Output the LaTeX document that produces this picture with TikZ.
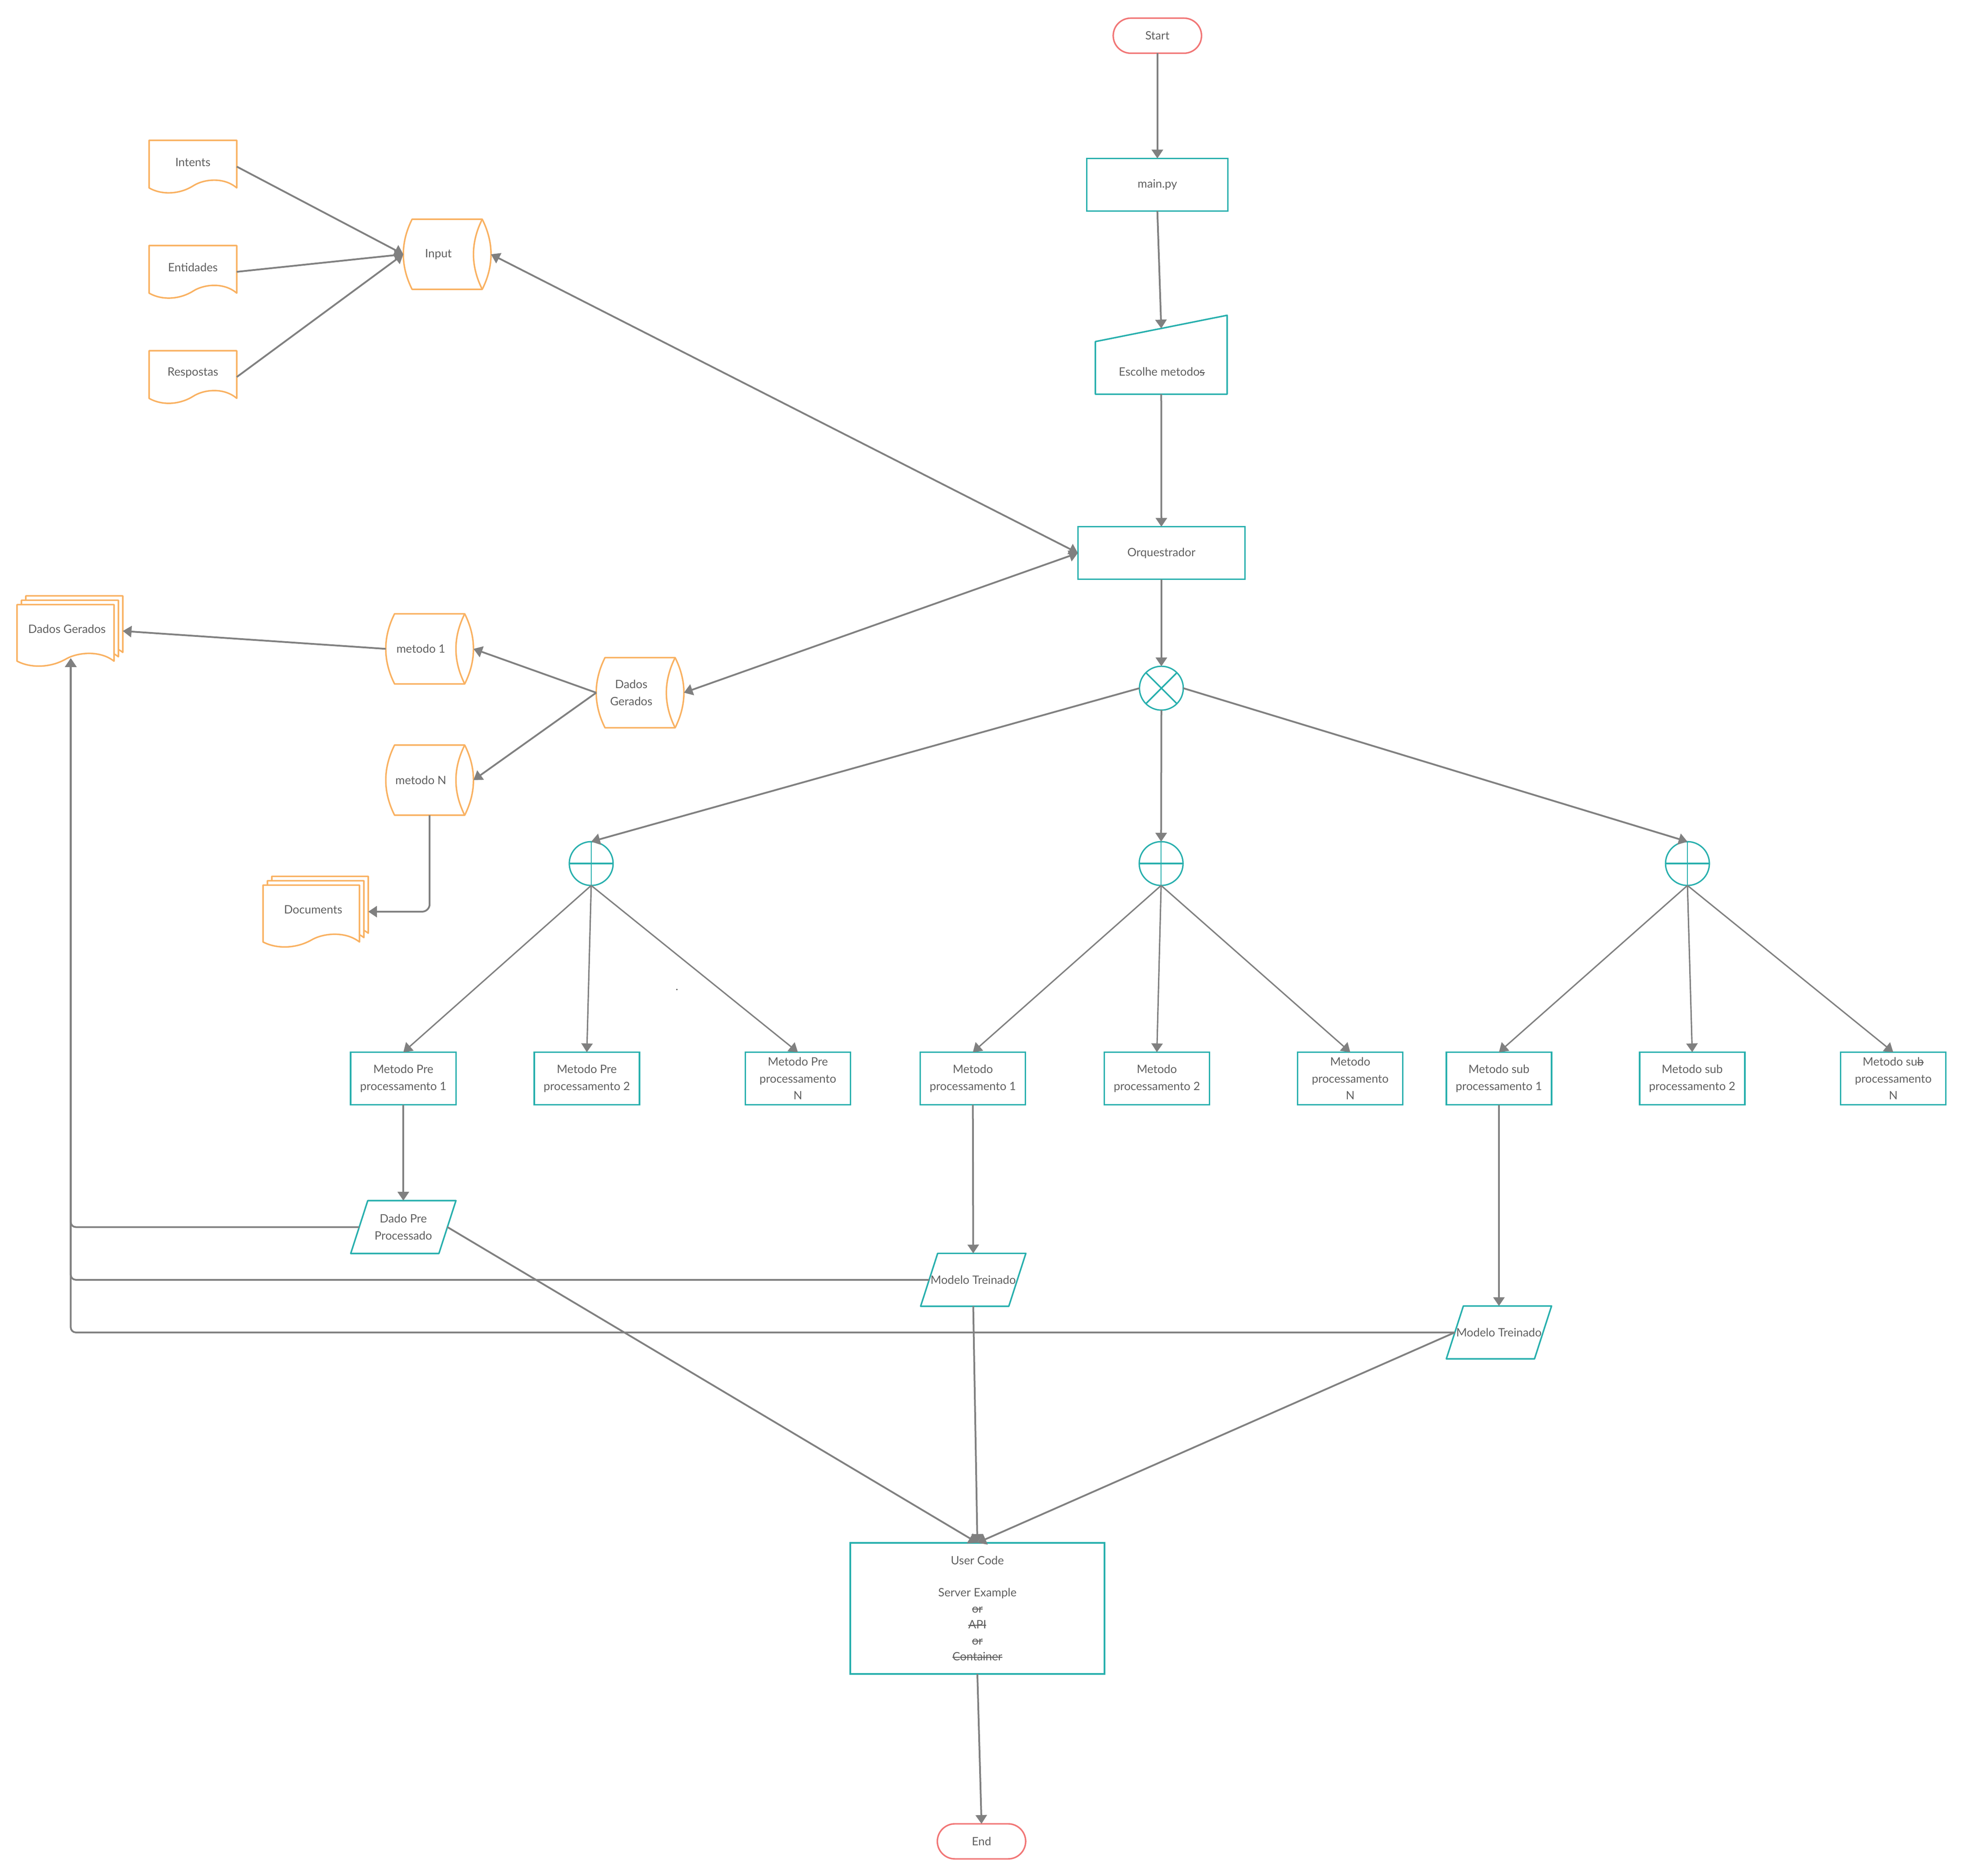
\documentclass[tikz,border=0pt]{standalone}
\usepackage{fontspec}
\setmainfont{Lato}
\usetikzlibrary{arrows.meta,calc}
\definecolor{teal2}{HTML}{27AFAD}
\definecolor{orng}{HTML}{F9B161}
\definecolor{redt}{HTML}{F17676}
\definecolor{lgray}{HTML}{808080}
\definecolor{txtc}{HTML}{5F5F5F}
\newcommand\strk[1]{\setbox0\hbox{#1}\rlap{\raisebox{0.26em}{\rule{\wd0}{0.07em}}}\box0}
% document shape: name, cx, cy, w, h, style
\newcommand\docshape[6]{%
  \node[anch, minimum width=#4pt, minimum height=#5pt] (#1) at (#2,#3) {};
  \path[#6] (#1.north west) -- (#1.north east) -- ($(#1.south east)+(0,-4)$)
    .. controls ($(#1.south west)+(0.85*#4,-13)$) and ($(#1.south west)+(0.62*#4,-11)$) .. ($(#1.south west)+(0.5*#4,-5.5)$)
    .. controls ($(#1.south west)+(0.35*#4,1)$) and ($(#1.south west)+(0.15*#4,2)$) .. ($(#1.south west)+(0,-4)$) -- cycle;
}
% sideways cylinder: name, cx, cy, text
\newcommand\cylshape[4]{%
  \node[anch, minimum width=70pt, minimum height=56pt] (#1) at (#2,#3) {};
  \path[oshape] ({#2-28},{#3-28}) -- ({#2+28},{#3-28})
    .. controls ({#2+37.33},{#3-9.33}) and ({#2+37.33},{#3+9.33}) .. ({#2+28},{#3+28})
    -- ({#2-28},{#3+28})
    .. controls ({#2-37.33},{#3+9.33}) and ({#2-37.33},{#3-9.33}) .. ({#2-28},{#3-28}) -- cycle;
  \path[oshape] ({#2+28},{#3-28}) .. controls ({#2+18.67},{#3-9.33}) and ({#2+18.67},{#3+9.33}) .. ({#2+28},{#3+28});
  \node[txt] (#1-t) at ({#2-7},#3) {#4};
}
% parallelogram: name, cx, cy, text
\newcommand\paral[4]{%
  \node[anch, minimum width=70.4pt, minimum height=42.2pt, align=center] (#1) at (#2,#3) {#4};
  \draw[tshape] ($(#1.north west)+(6.8,0)$) -- ($(#1.north east)+(6.8,0)$) -- ($(#1.south east)+(-6.8,0)$) -- ($(#1.south west)+(-6.8,0)$) -- cycle;
}
\begin{document}
\begin{tikzpicture}[x=1pt,y=-1pt,
  font=\fontsize{9.2}{13.5}\selectfont,
  every node/.style={text=txtc},
  >={Triangle[width=9pt,length=7pt]},
  anch/.style={draw=none, rectangle, inner sep=0pt, outer sep=0pt},
  txt/.style={inner sep=0pt, align=center},
  tbox/.style={draw=teal2, line width=1.2pt, rectangle, inner sep=0pt, outer sep=0pt, align=center},
  term/.style={draw=redt, line width=1.2pt, rectangle, rounded corners=14pt, minimum width=70.5pt, minimum height=28pt, inner sep=0pt, outer sep=0pt},
  oshape/.style={draw=orng, line width=1.2pt, fill=white, line join=round},
  tshape/.style={draw=teal2, line width=1.2pt, line join=round},
  ring/.style={circle, draw=teal2, line width=1.1pt, minimum size=35pt, inner sep=0pt, outer sep=0pt},
  conn/.style={draw=lgray, line width=1.4pt, ->},
  fan/.style={draw=lgray, line width=1.1pt, ->}
]
\useasboundingbox (0,0) rectangle (1568,1497.6);

% ---------- terminals ----------
\node[term] (start) at (924,28.5) {Start};
\node[term] (endn) at (783.6,1470) {End};

% ---------- teal process boxes ----------
\node[tbox, minimum width=112.6pt, minimum height=42pt] (mainpy) at (924,147.5) {main.py};
\node[anch, minimum width=105.2pt, minimum height=63pt] (escolhe) at (927.1,283.2) {};
\draw[tshape] (escolhe.south west) -- ($(escolhe.north west)+(0,21)$) -- (escolhe.north east) -- (escolhe.south east) -- cycle;
\coordinate (escolhe-top) at ($(escolhe.north)+(0,10.5)$);
\node[txt] (escolhe-t) at (927.5,296.8) {Escolhe metodo\strk{s}};
\node[tbox, minimum width=133.3pt, minimum height=42pt] (orq) at (927.2,441.5) {Orquestrador};

\node[ring] (xor) at (927.2,549.4) {};
\draw[tshape] (xor.north west) -- (xor.south east) (xor.north east) -- (xor.south west);

\foreach \n/\x in {p1/472, p2/927, p3/1347.2}{
  \node[ring] (\n) at (\x,689.4) {};
  \draw[draw=teal2, line width=0.9pt] (\n.north) -- (\n.south);
  \draw[draw=teal2, line width=1.5pt] (\n.west) -- (\n.east);
}

\node[tbox, minimum width=84pt, minimum height=42pt] (b1) at (322,861) {Metodo Pre\\processamento 1};
\node[tbox, minimum width=84pt, minimum height=42pt] (b2) at (468.5,861) {Metodo Pre\\processamento 2};
\node[tbox, minimum width=84pt, minimum height=42pt] (b3) at (637,861) {Metodo Pre\\processamento\\N};
\node[tbox, minimum width=84pt, minimum height=42pt] (b4) at (776.7,861) {Metodo\\processamento 1};
\node[tbox, minimum width=84pt, minimum height=42pt] (b5) at (923.6,861) {Metodo\\processamento 2};
\node[tbox, minimum width=84pt, minimum height=42pt] (b6) at (1078,861) {Metodo\\processamento\\N};
\node[tbox, minimum width=84pt, minimum height=42pt] (b7) at (1196.7,861) {Metodo sub\\processamento 1};
\node[tbox, minimum width=84pt, minimum height=42pt] (b8) at (1351,861) {Metodo sub\\processamento 2};
\node[tbox, minimum width=84pt, minimum height=42pt] (b9) at (1511.5,861) {Metodo su\strk{b}\\processamento\\N};

\paral{dadopre}{322}{979.6}{Dado Pre\\Processado}
\paral{modelo1}{777}{1021.7}{Modelo Treinado}
\paral{modelo2}{1196.7}{1063.7}{Modelo Treinado}

\node[tbox, minimum width=203pt, minimum height=104.7pt, font=\fontsize{9.2}{12.8}\selectfont] (usercode) at (780.3,1284)
  {User Code\\[12.8pt]Server Example\\\strk{or}\\\strk{API}\\\strk{or}\\\strk{Container}};

\node[txt] (dot) at (540.4,790) {.};

% ---------- orange data shapes ----------
\docshape{intents}{154}{133}{70}{42}{oshape}
\node[txt] (intents-t) at (154,129.5) {Intents};
\docshape{entidades}{154}{217}{70}{42}{oshape}
\node[txt] (entidades-t) at (154,213.5) {Entidades};
\docshape{respostas}{154}{301}{70}{42}{oshape}
\node[txt] (respostas-t) at (154,297.5) {Respostas};

\cylshape{input}{357}{203}{Input}
\cylshape{dcyl}{511}{553}{Dados\\Gerados}
\cylshape{m1}{343}{518}{metodo 1}
\cylshape{mN}{343}{622.8}{metodo N}

% multiple documents: Dados Gerados
\docshape{dgdoc-b2}{59.3}{500.25}{77.4}{49.1}{oshape}
\docshape{dgdoc-b1}{55.8}{503.75}{77.4}{49.1}{oshape}
\docshape{dgdoc-f}{52.3}{507.25}{77.4}{49.1}{oshape}
\node[anch, minimum width=84.4pt, minimum height=56.1pt] (dgdoc) at (55.8,503.75) {};
\node[txt] (dgdoc-t) at (53.5,502) {Dados Gerados};
\coordinate (dgdoc-in) at (56.5,525.5);

% multiple documents: Documents
\docshape{docs-b2}{255.5}{724.3}{77}{49.4}{oshape}
\docshape{docs-b1}{252}{727.8}{77}{49.4}{oshape}
\docshape{docs-f}{248.5}{731.3}{77}{49.4}{oshape}
\node[anch, minimum width=84pt, minimum height=56.4pt] (docs) at (252,727.8) {};
\node[txt] (docs-t) at (250,726) {Documents};

% ---------- connectors ----------
\draw[conn] (start.south) -- (mainpy.north);
\draw[conn] (mainpy.south) -- (escolhe-top);
\draw[conn] (escolhe.south) -- (orq.north);
\draw[conn] (orq.south) -- (xor.north);

\draw[conn] (intents.east) -- (input.west);
\draw[conn] (entidades.east) -- (input.west);
\draw[conn] (respostas.east) -- (input.west);
\draw[conn, <->] (input.east) -- (orq.west);
\draw[conn, <->] (dcyl.east) -- (orq.west);
\draw[conn] (dcyl.west) -- (m1.east);
\draw[conn] (dcyl.west) -- (mN.east);
\draw[conn] (m1.west) -- (dgdoc.east);
\draw[conn, rounded corners=6pt] (mN.south) |- (docs.east);

\draw[conn] (xor.west) -- (p1.north);
\draw[conn] (xor.south) -- (p2.north);
\draw[conn] (xor.east) -- (p3.north);

\foreach \p/\a/\b/\c in {p1/b1/b2/b3, p2/b4/b5/b6, p3/b7/b8/b9}{
  \draw[fan] (\p.south) -- (\a.north);
  \draw[fan] (\p.south) -- (\b.north);
  \draw[fan] (\p.south) -- (\c.north);
}

\draw[conn] (b1.south) -- (dadopre.north);
\draw[conn] (b4.south) -- (modelo1.north);
\draw[conn] (b7.south) -- (modelo2.north);

\draw[conn, rounded corners=4pt] (dadopre.west) -| (dgdoc-in);
\draw[conn, rounded corners=4pt] (modelo1.west) -| (dgdoc-in);
\draw[conn, rounded corners=4pt] (modelo2.west) -| (dgdoc-in);

\draw[conn] (dadopre.east) -- (usercode.north);
\draw[conn] (modelo1.south) -- (usercode.north);
\draw[conn] (modelo2.west) -- (usercode.north);
\draw[conn] (usercode.south) -- (endn.north);
\end{tikzpicture}
\end{document}
